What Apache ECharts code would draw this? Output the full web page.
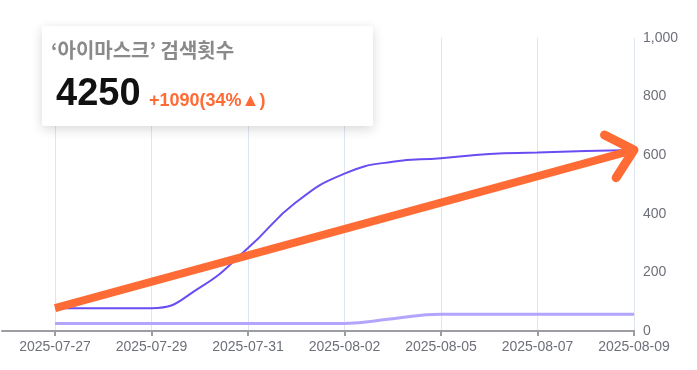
<!DOCTYPE html>
<html>
<head>
<meta charset="utf-8">
<script src="https://cdn.jsdelivr.net/npm/echarts@6/dist/echarts.min.js"></script>
<style>
html,body{margin:0;padding:0;background:#fff;}
#chart{width:697px;height:370px;}
</style>
</head>
<body>
<div id="chart"></div>
<script>
// ---- data ----
const categories = ['2025-07-27','2025-07-28','2025-07-29','2025-07-30','2025-07-31','2025-08-01','2025-08-02','2025-08-04','2025-08-05','2025-08-06','2025-08-07','2025-08-08','2025-08-09'];
const searchCount = [78, 78, 78, 148, 283, 440, 537, 578, 590, 604, 609, 614, 618];
const secondCount = [26, 26, 26, 26, 26, 26, 26, 42, 57, 57, 57, 57, 57];
const trendStart = 78;
const trendEnd = 618;
const yTicks = { min: 0, max: 1000, interval: 200 };
const cardTitle = '‘아이마스크’ 검색횟수';
const cardValue = '4250';
const cardDelta = '+1090(34%▲)';

const lastIdx = categories.length - 1;
const trendData = categories.map((c, i) => i === 0 ? trendStart : (i === lastIdx ? trendEnd : null));

const ORANGE = '#FF6B35';
const chart = echarts.init(document.getElementById('chart'), null, { renderer: 'canvas' });

const axisFont = 'Liberation Sans, Arial, sans-serif';
const axisLineStyle = { color: '#9c9ca3', width: 2 };

chart.setOption({
  animation: false,
  grid: [
    { left: 55, right: 63, top: 38, bottom: 39 },
    { left: 2, right: 63, top: 38, bottom: 39 }
  ],
  xAxis: [
    {
      type: 'category', gridIndex: 0, data: categories, boundaryGap: false,
      axisLine: { lineStyle: axisLineStyle },
      axisTick: { interval: 1, length: 5, lineStyle: axisLineStyle },
      axisLabel: { interval: 1, color: '#6E7079', fontSize: 14, fontFamily: axisFont, margin: 9 },
      splitLine: { show: true, interval: 1, lineStyle: { color: '#E0E6F1', width: 1 } }
    },
    {
      type: 'value', gridIndex: 1, min: 0, max: 1,
      axisLine: { show: true, onZero: false, lineStyle: axisLineStyle },
      axisTick: { show: false }, axisLabel: { show: false }, splitLine: { show: false }
    }
  ],
  yAxis: [
    {
      type: 'value', gridIndex: 0, position: 'right', min: yTicks.min, max: yTicks.max, interval: yTicks.interval,
      axisLine: { show: false }, axisTick: { show: false }, splitLine: { show: false },
      axisLabel: { color: '#6E7079', fontSize: 14, fontFamily: axisFont, margin: 9 }
    },
    { type: 'value', gridIndex: 1, show: false, min: 0, max: 1 }
  ],
  series: [
    {
      type: 'line', data: secondCount, smooth: true, symbol: 'none',
      lineStyle: { color: '#B3A5FB', width: 3 }, z: 2
    },
    {
      type: 'line', data: searchCount, smooth: true, symbol: 'none',
      lineStyle: { color: '#6A4CF2', width: 2 }, z: 3
    },
    {
      type: 'line', data: trendData, connectNulls: true, symbol: 'none',
      lineStyle: { color: ORANGE, width: 8, cap: 'butt' }, z: 4
    },
    {
      type: 'custom', z: 5,
      data: [[lastIdx, trendEnd]],
      renderItem: function (params, api) {
        const tip = api.coord([api.value(0), api.value(1)]);
        const start = api.coord([0, trendStart]);
        const ang = Math.atan2(start[1] - tip[1], start[0] - tip[0]);
        const len = 33, spread = 42 * Math.PI / 180;
        const p1 = [tip[0] + len * Math.cos(ang - spread), tip[1] + len * Math.sin(ang - spread)];
        const p2 = [tip[0] + len * Math.cos(ang + spread), tip[1] + len * Math.sin(ang + spread)];
        return {
          type: 'polyline',
          shape: { points: [p1, tip, p2] },
          style: { stroke: ORANGE, lineWidth: 9, fill: null, lineCap: 'round', lineJoin: 'round' }
        };
      }
    }
  ],
  graphic: [
    {
      type: 'rect', z: 100,
      shape: { x: 42, y: 26, width: 331, height: 100, r: 2 },
      style: { fill: '#ffffff', shadowBlur: 12, shadowColor: 'rgba(0,0,0,0.16)', shadowOffsetY: 3 }
    },
    {
      type: 'text', z: 101,
      style: { text: cardTitle, x: 51, y: 50, fill: '#8a8a8a', font: 'bold 20px "Noto Sans CJK KR", sans-serif', textVerticalAlign: 'middle' }
    },
    {
      type: 'text', z: 101,
      style: { text: cardValue, x: 56, y: 95, fill: '#111111', font: 'bold 38px "Liberation Sans", Arial, sans-serif', textVerticalAlign: 'middle' }
    },
    {
      type: 'text', z: 101,
      style: { text: cardDelta, x: 149, y: 101, fill: ORANGE, font: 'bold 18px "Liberation Sans", Arial, sans-serif', textVerticalAlign: 'middle' }
    }
  ]
});
</script>
</body>
</html>
